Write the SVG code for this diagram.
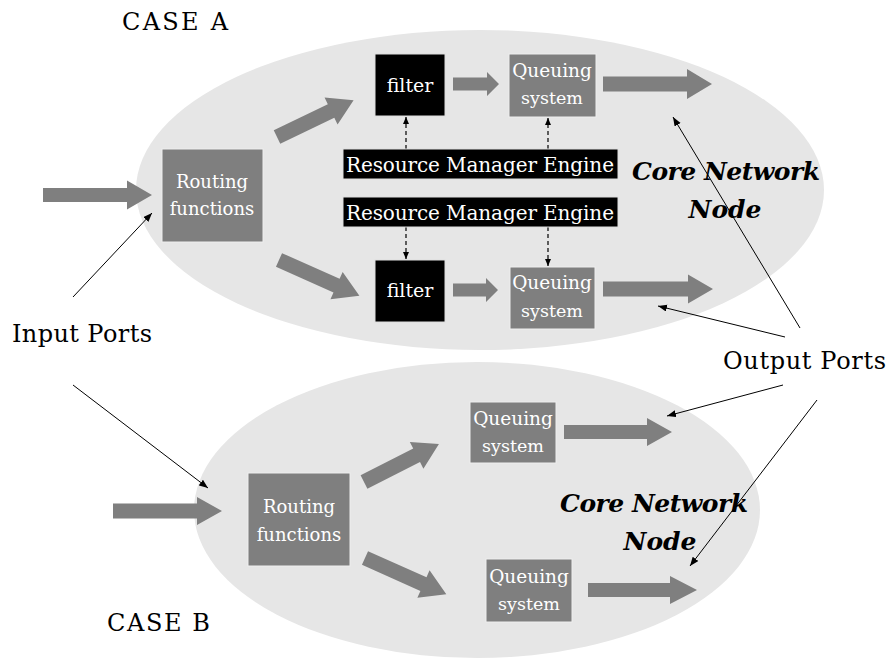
<svg xmlns="http://www.w3.org/2000/svg" width="892" height="662" viewBox="0 0 892 662">
<defs>
<style>
.bg{fill:#ffffff}
.ell{fill:#e6e6e6}
.blk{fill:#7f7f7f}
.gbox{fill:#7f7f7f;stroke:#eeeeee;stroke-width:1}
.kbox{fill:#000000;stroke:#dddddd;stroke-width:1}
.bt{font-family:"DejaVu Serif","Liberation Serif",serif;fill:#ffffff;text-anchor:middle}
.lbl{font-family:"DejaVu Serif","Liberation Serif",serif;fill:#000000;font-size:24px}
.core{font-family:"DejaVu Serif","Liberation Serif",serif;font-weight:bold;font-style:italic;font-size:25px;fill:#000000;text-anchor:middle}
.ln{stroke:#000000;stroke-width:1;fill:none;marker-end:url(#ah)}
.dl{stroke:#000000;stroke-width:1.2;fill:none;stroke-dasharray:4 3;marker-end:url(#ahs)}
</style>
<marker id="ah" markerUnits="userSpaceOnUse" markerWidth="10" markerHeight="8" refX="9" refY="3.5" orient="auto">
<path d="M0,0 L9,3.5 L0,7 z" fill="#000000"/>
</marker>
<marker id="ahs" markerUnits="userSpaceOnUse" markerWidth="8" markerHeight="8" refX="7" refY="3" orient="auto">
<path d="M0,0 L7,3 L0,6 z" fill="#000000"/>
</marker>
</defs>
<rect class="bg" x="0" y="0" width="892" height="662"/>

<g id="nodeA-ellipse"><ellipse class="ell" cx="480" cy="190" rx="344" ry="160"/></g>
<g id="nodeB-ellipse"><ellipse class="ell" cx="477" cy="510" rx="283" ry="148"/></g>

<g id="connectors">
<!-- block arrows case A -->
<polygon class="blk" points="43,188 127,188 127,180.5 152,195 127,209.5 127,202 43,202"/>
<polygon class="blk" transform="translate(277,137) rotate(-25.7)" points="0,-7.5 60,-7.5 60,-15 85,0 60,15 60,7.5 0,7.5"/>
<polygon class="blk" transform="translate(279,260) rotate(24)" points="0,-7.5 63,-7.5 63,-15 88,0 63,15 63,7.5 0,7.5"/>
<polygon class="blk" points="453,77.5 487,77.5 487,72 499,84 487,96 487,90.5 453,90.5"/>
<polygon class="blk" points="603,76.5 687,76.5 687,69 712,84 687,99 687,91.5 603,91.5"/>
<polygon class="blk" points="453,283.5 486,283.5 486,278 498,290 486,302 486,296.5 453,296.5"/>
<polygon class="blk" points="603,281.5 688,281.5 688,274.5 713,289 688,303.5 688,296.5 603,296.5"/>
<!-- block arrows case B -->
<polygon class="blk" points="113,503.5 197,503.5 197,497 222,511 197,525 197,518.5 113,518.5"/>
<polygon class="blk" transform="translate(364,482) rotate(-26.9)" points="0,-7.5 59,-7.5 59,-15 84,0 59,15 59,7.5 0,7.5"/>
<polygon class="blk" transform="translate(365,558) rotate(24)" points="0,-7.5 64,-7.5 64,-15 89,0 64,15 64,7.5 0,7.5"/>
<polygon class="blk" points="564,425 647,425 647,418 672,432 647,446 647,439 564,439"/>
<polygon class="blk" points="588,583 670,583 670,576 697,590 670,604 670,597 588,597"/>
<!-- dashed resource manager links -->
<line class="dl" x1="406" y1="149" x2="406" y2="117"/>
<line class="dl" x1="548" y1="149" x2="548" y2="118"/>
<line class="dl" x1="406" y1="227" x2="406" y2="259"/>
<line class="dl" x1="548" y1="227" x2="548" y2="266"/>
</g>

<g id="routingA"><rect class="gbox" x="162" y="149" width="101" height="93"/>
<text class="bt" x="212" y="188" font-size="18">Routing</text>
<text class="bt" x="212" y="215" font-size="18">functions</text></g>
<g id="filterA1"><rect class="kbox" x="375" y="54" width="70" height="62"/>
<text class="bt" x="410" y="92" font-size="19">filter</text></g>
<g id="queueA1"><rect class="gbox" x="509" y="54" width="87" height="63"/>
<text class="bt" x="552" y="77" font-size="18.5">Queuing</text>
<text class="bt" x="552" y="104" font-size="17.5">system</text></g>
<g id="rmeA1"><rect class="kbox" x="343" y="149" width="275" height="30"/>
<text class="bt" x="480" y="172" font-size="20" textLength="268">Resource Manager Engine</text></g>
<g id="rmeA2"><rect class="kbox" x="343" y="197" width="275" height="30"/>
<text class="bt" x="480" y="220" font-size="20" textLength="268">Resource Manager Engine</text></g>
<g id="filterA2"><rect class="kbox" x="375" y="260" width="70" height="62"/>
<text class="bt" x="410" y="297" font-size="19">filter</text></g>
<g id="queueA2"><rect class="gbox" x="510" y="267" width="85" height="62"/>
<text class="bt" x="552" y="289" font-size="18.5">Queuing</text>
<text class="bt" x="552" y="317" font-size="17.5">system</text></g>

<g id="routingB"><rect class="gbox" x="248" y="473" width="102" height="93"/>
<text class="bt" x="299" y="513" font-size="18">Routing</text>
<text class="bt" x="299" y="541" font-size="18">functions</text></g>
<g id="queueB1"><rect class="gbox" x="470" y="402" width="86" height="61"/>
<text class="bt" x="513" y="425" font-size="18.5">Queuing</text>
<text class="bt" x="513" y="452" font-size="17.5">system</text></g>
<g id="queueB2"><rect class="gbox" x="486" y="559" width="86" height="63"/>
<text class="bt" x="529" y="583" font-size="18.5">Queuing</text>
<text class="bt" x="529" y="610" font-size="17.5">system</text></g>

<g id="labels">
<text class="lbl" x="122" y="30" font-size="25" textLength="106">CASE A</text>
<text class="lbl" x="107" y="631" font-size="25" textLength="103">CASE B</text>
<text class="lbl" x="12" y="342" textLength="140">Input Ports</text>
<text class="lbl" x="723" y="369" textLength="163">Output Ports</text>
<text class="core" x="726" y="180" textLength="188">Core Network</text>
<text class="core" x="725" y="218">Node</text>
<text class="core" x="654" y="512" textLength="188">Core Network</text>
<text class="core" x="660" y="550">Node</text>
</g>

<g id="port-connectors">
<line class="ln" x1="73" y1="297" x2="152" y2="213"/>
<line class="ln" x1="73" y1="385" x2="208" y2="488"/>
<line class="ln" x1="800" y1="328" x2="673" y2="117"/>
<line class="ln" x1="785" y1="337" x2="658" y2="306"/>
<line class="ln" x1="783" y1="385" x2="667" y2="416"/>
<line class="ln" x1="817" y1="400" x2="690" y2="566"/>
</g>
</svg>
